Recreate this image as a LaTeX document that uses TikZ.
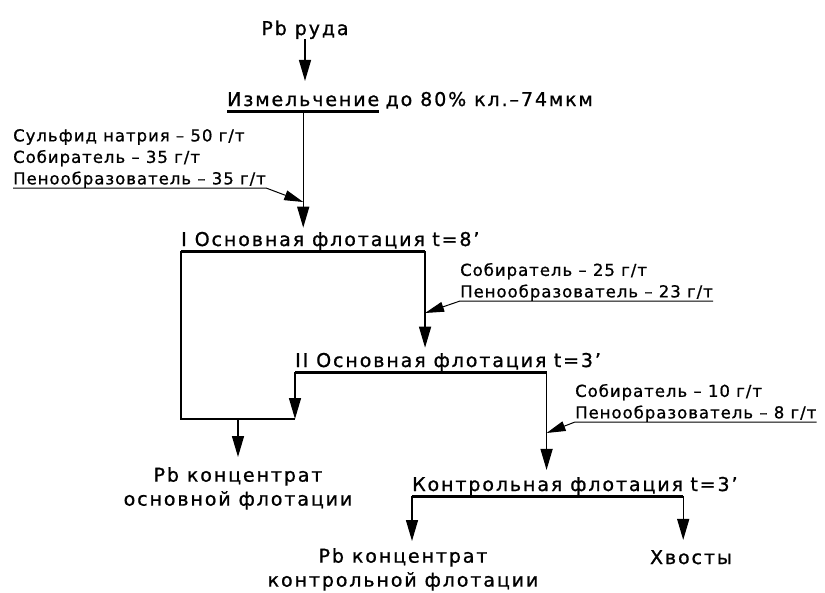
\documentclass[tikz,border=0pt]{standalone}
\usepackage{fontspec}
\setmainfont{DejaVu Sans}[LetterSpace=10, FakeBold=1]
\newfontfamily\notefont{DejaVu Sans}[LetterSpace=6, FakeBold=0.8]
\usetikzlibrary{positioning}
\usetikzlibrary{arrows.meta}

\begin{document}
\begin{tikzpicture}[x=1pt, y=-1pt,
proc/.style={inner sep=0pt, text depth=5pt, font=\fontsize{19}{23}\selectfont},
product/.style={inner sep=0pt, align=center, font=\fontsize{19}{24}\selectfont},
note/.style={inner sep=0pt, align=left, font=\notefont\fontsize{16.5}{21.5}\selectfont},
pipe/.style={line width=1.4pt},
flow/.style={line width=1.4pt, -{Triangle[length=21pt,width=12pt]}},
feed/.style={line width=1pt, -{Triangle[length=19pt,width=10pt]}},
bar/.style={line width=3pt}
]
\useasboundingbox (0,0) rectangle (825,592);

%Nodes
\node[product, anchor=base]       (ore)   at (305,35)   {Pb руда};
\node[proc, anchor=base west]     (mill)  at (227,106)  {Измельчение};
\node[proc, base right=6pt of mill]   (millx)     {до 80\% кл.–74мкм};
\node[note, anchor=south west]    (note1) at (13,188)   {Сульфид натрия – 50 г/т\\Собиратель – 35 г/т\\Пенообразователь – 35 г/т};

\node[proc, anchor=base west]     (fl1)   at (181,246)  {I Основная флотация};
\node[proc, base right=7pt of fl1]    (fl1t)      {t=8'};
\node[note, anchor=south west]    (note2) at (460,301)  {Собиратель – 25 г/т\\Пенообразователь – 23 г/т};

\node[proc, anchor=base west]     (fl2)   at (295,367)  {II Основная флотация};
\node[proc, base right=7pt of fl2]    (fl2t)      {t=3'};
\node[note, anchor=south west]    (note3) at (575,422)  {Собиратель – 10 г/т\\Пенообразователь – 8 г/т};

\node[product, anchor=north]      (conc1) at (238,467)  {Pb концентрат\\основной флотации};

\node[proc, anchor=base west]     (fl3)   at (412,491)  {Контрольная флотация};
\node[proc, base right=7pt of fl3]    (fl3t)      {t=3'};

\node[product, anchor=north]      (conc2) at (403,548)  {Pb концентрат\\контрольной флотации};
\node[product, anchor=base]       (tails) at (691,564)  {Хвосты};

%Lines
\draw[flow, shorten >=11pt] (ore.south) -- (ore.south |- mill.north);
\draw[bar] (mill.south west) -- (mill.south east);
\draw[flow, shorten >=4pt] (mill.south) -- (mill.south |- fl1.north);
\coordinate (in1) at (mill.south |- 0,202);
\draw[feed] (note1.south west) -- (note1.south east) -- (in1);

\draw[bar] (fl1.south west) -- (fl1.south east);
\coordinate (j1) at (conc1.north |- 0,419);
\draw[pipe] (fl1.south west) |- (fl2.south west |- j1);
\draw[flow] (fl2.south west) -- (fl2.south west |- j1);
\draw[flow, shorten >=10pt] (j1) -- (conc1.north);
\draw[flow, shorten >=5pt] (fl1.south east) -- (fl1.south east |- fl2.north);
\coordinate (in2) at (fl1.south east |- 0,313);
\draw[feed] (note2.south east) -- (note2.south west) -- (in2);

\draw[bar] (fl2.south west) -- (fl2.south east);
\draw[flow, shorten >=7pt] (fl2.south east) -- (fl2.south east |- fl3.north);
\coordinate (in3) at (fl2.south east |- 0,433);
\draw[feed] (note3.south east) -- (note3.south west) -- (in3);

\draw[bar] (fl3.south west) -- (fl3.south east);
\draw[flow, shorten >=7pt] (fl3.south west) -- (fl3.south west |- conc2.north);
\draw[flow, shorten >=10pt] (fl3.south east) -- (fl3.south east |- tails.north);

\end{tikzpicture}
\end{document}
